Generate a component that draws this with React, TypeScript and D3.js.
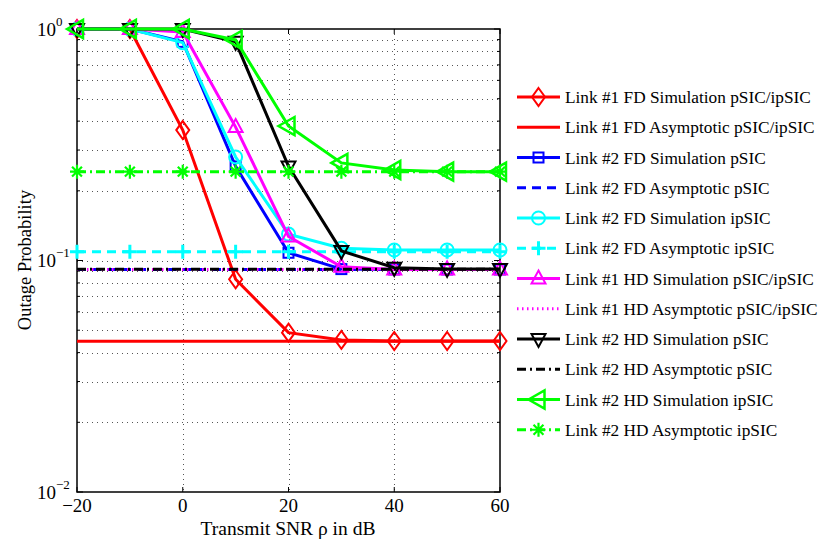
import React from "react";
import * as d3 from "d3";

const snr = [-20, -10, 0, 10, 20, 30, 40, 50, 60];

const link1FDSim = [1, 1, 0.366, 0.083, 0.0488, 0.0454, 0.0449, 0.0449, 0.0449];
const link1FDAsym = [0.0448, 0.0448, 0.0448, 0.0448, 0.0448, 0.0448, 0.0448, 0.0448, 0.0448];
const link2FDSimP = [1, 1, 0.88, 0.255, 0.108, 0.0918, 0.0915, 0.0915, 0.0915];
const link2FDAsymP = [0.0915, 0.0915, 0.0915, 0.0915, 0.0915, 0.0915, 0.0915, 0.0915, 0.0915];
const link2FDSimI = [1, 1, 0.873, 0.28, 0.13, 0.113, 0.111, 0.111, 0.111];
const link2FDAsymI = [0.109, 0.109, 0.109, 0.109, 0.109, 0.109, 0.109, 0.109, 0.109];
const link1HDSim = [1, 1, 0.97, 0.377, 0.127, 0.094, 0.0915, 0.0915, 0.0915];
const link1HDAsym = [0.0915, 0.0915, 0.0915, 0.0915, 0.0915, 0.0915, 0.0915, 0.0915, 0.0915];
const link2HDSimP = [1, 1, 1, 0.88, 0.255, 0.11, 0.093, 0.092, 0.092];
const link2HDAsymP = [0.0916, 0.0916, 0.0916, 0.0916, 0.0916, 0.0916, 0.0916, 0.0916, 0.0916];
const link2HDSimI = [1, 1, 1, 0.897, 0.381, 0.264, 0.246, 0.242, 0.242];
const link2HDAsymI = [0.242, 0.242, 0.242, 0.242, 0.242, 0.242, 0.242, 0.242, 0.242];

const xTicks = [-20, 0, 20, 40, 60];
const yMajor = [-2, -1, 0];

type Marker = "diamond" | "none" | "square" | "circle" | "plus" | "triUp" | "triDown" | "triLeft" | "star";

interface Series {
  label: string;
  values: number[];
  color: string;
  dash: string;
  marker: Marker;
}

const series: Series[] = [
  { label: "Link #1 FD Simulation pSIC/ipSIC", values: link1FDSim, color: "#ff0000", dash: "", marker: "diamond" },
  { label: "Link #1 FD Asymptotic pSIC/ipSIC", values: link1FDAsym, color: "#ff0000", dash: "", marker: "none" },
  { label: "Link #2 FD Simulation pSIC", values: link2FDSimP, color: "#0000ff", dash: "", marker: "square" },
  { label: "Link #2 FD Asymptotic pSIC", values: link2FDAsymP, color: "#0000ff", dash: "9,6", marker: "none" },
  { label: "Link #2 FD Simulation ipSIC", values: link2FDSimI, color: "#00ffff", dash: "", marker: "circle" },
  { label: "Link #2 FD Asymptotic ipSIC", values: link2FDAsymI, color: "#00ffff", dash: "9,6", marker: "plus" },
  { label: "Link #1 HD Simulation pSIC/ipSIC", values: link1HDSim, color: "#ff00ff", dash: "", marker: "triUp" },
  { label: "Link #1 HD Asymptotic pSIC/ipSIC", values: link1HDAsym, color: "#ff00ff", dash: "1.5,3.5", marker: "none" },
  { label: "Link #2 HD Simulation pSIC", values: link2HDSimP, color: "#000000", dash: "", marker: "triDown" },
  { label: "Link #2 HD Asymptotic pSIC", values: link2HDAsymP, color: "#000000", dash: "9,4,2,4", marker: "none" },
  { label: "Link #2 HD Simulation ipSIC", values: link2HDSimI, color: "#00ff00", dash: "", marker: "triLeft" },
  { label: "Link #2 HD Asymptotic ipSIC", values: link2HDAsymI, color: "#00ff00", dash: "9,4,2,4", marker: "star" },
];

const W = 819;
const H = 539;
const L = 77, R = 500, T = 29, B = 492;
const FONT = "'Liberation Serif', 'Times New Roman', serif";

function MarkerShape({ type, x, y, color }: { type: Marker; x: number; y: number; color: string }) {
  const sw = 2;
  const common = { fill: "none", stroke: color, strokeWidth: sw };
  switch (type) {
    case "diamond":
      return <path d={`M${x},${y - 9}L${x + 6.5},${y}L${x},${y + 9}L${x - 6.5},${y}Z`} {...common} />;
    case "square":
      return <rect x={x - 5} y={y - 5} width={10} height={10} {...common} />;
    case "circle":
      return <circle cx={x} cy={y} r={6.5} {...common} />;
    case "plus":
      return <path d={`M${x - 7},${y}H${x + 7}M${x},${y - 7}V${y + 7}`} {...common} strokeWidth={3} />;
    case "triUp":
      return <path d={`M${x},${y - 8}L${x + 7},${y + 5}L${x - 7},${y + 5}Z`} {...common} />;
    case "triDown":
      return <path d={`M${x},${y + 8}L${x + 7},${y - 5}L${x - 7},${y - 5}Z`} {...common} />;
    case "triLeft":
      return <path d={`M${x - 10},${y}L${x + 6},${y - 9}L${x + 6},${y + 9}Z`} {...common} strokeWidth={2.5} />;
    case "star": {
      const r = 7;
      const d = r * 0.707;
      return (
        <path
          d={`M${x - r},${y}H${x + r}M${x},${y - r}V${y + r}M${x - d},${y - d}L${x + d},${y + d}M${x - d},${y + d}L${x + d},${y - d}`}
          {...common}
          strokeWidth={2.2}
        />
      );
    }
    default:
      return null;
  }
}

export default function App() {
  const x = d3.scaleLinear().domain([-20, 60]).range([L, R]);
  const y = d3.scaleLog().domain([0.01, 1]).range([B, T]);

  const minorY: number[] = [];
  for (const e of [-2, -1]) {
    for (let m = 2; m <= 9; m++) minorY.push(m * Math.pow(10, e));
  }
  const gridY = [...minorY, 0.1];

  const line = d3
    .line<number>()
    .x((_, i) => x(snr[i]))
    .y((v) => y(v));

  const legendX0 = 517, legendX1 = 560, legendY0 = 97, legendStep = 30.25;

  return (
    <svg width={W} height={H} style={{ position: "absolute", left: 0, top: 0, background: "#fff" }} fontFamily={FONT}>
      <rect x={0} y={0} width={W} height={H} fill="#fff" />
      {/* grid */}
      <g stroke="#555" strokeWidth={1} strokeDasharray="1,4">
        {gridY.map((v, i) => (
          <line key={"gy" + i} x1={L} x2={R} y1={Math.round(y(v)) + 0.5} y2={Math.round(y(v)) + 0.5} />
        ))}
        {xTicks.slice(1, -1).map((t) => (
          <line key={"gx" + t} x1={Math.round(x(t)) + 0.5} x2={Math.round(x(t)) + 0.5} y1={T} y2={B} />
        ))}
      </g>
      {/* ticks */}
      <g stroke="#000" strokeWidth={1}>
        {xTicks.map((t) => (
          <g key={"xt" + t}>
            <line x1={x(t)} x2={x(t)} y1={B} y2={B - 5} />
            <line x1={x(t)} x2={x(t)} y1={T} y2={T + 5} />
          </g>
        ))}
        {yMajor.map((e) => (
          <g key={"ym" + e}>
            <line x1={L} x2={L + 6} y1={y(Math.pow(10, e))} y2={y(Math.pow(10, e))} />
            <line x1={R} x2={R - 6} y1={y(Math.pow(10, e))} y2={y(Math.pow(10, e))} />
          </g>
        ))}
        {minorY.map((v, i) => (
          <g key={"yn" + i}>
            <line x1={L} x2={L + 3} y1={y(v)} y2={y(v)} />
            <line x1={R} x2={R - 3} y1={y(v)} y2={y(v)} />
          </g>
        ))}
      </g>
      <rect x={L} y={T} width={R - L} height={B - T} fill="none" stroke="#000" strokeWidth={1.5} />
      {/* series */}
      <g>
        {series.map((s, si) => (
          <g key={"s" + si}>
            <path d={line(s.values) || ""} fill="none" stroke={s.color} strokeWidth={3} strokeDasharray={s.dash || undefined} />
            {s.marker !== "none" &&
              s.values.map((v, i) => <MarkerShape key={i} type={s.marker} x={x(snr[i])} y={y(v)} color={s.color} />)}
          </g>
        ))}
      </g>
      {/* tick labels */}
      <g fontSize={19} fill="#000">
        {xTicks.map((t) => (
          <text key={"xl" + t} x={x(t)} y={512} textAnchor="middle">
            {t < 0 ? "\u2212" + Math.abs(t) : t}
          </text>
        ))}
        {yMajor.map((e) => (
          <text key={"yl" + e} x={37} y={y(Math.pow(10, e)) + 6.5} textAnchor="start">
            <tspan>10</tspan>
            <tspan dy={-10} fontSize={13}>{e < 0 ? "\u2212" + Math.abs(e) : e}</tspan>
          </text>
        ))}
      </g>
      <text x={288} y={535} textAnchor="middle" fontSize={19.5}>
        Transmit SNR ρ in dB
      </text>
      <text transform={`translate(31,${260}) rotate(-90)`} textAnchor="middle" fontSize={18.5}>
        Outage Probability
      </text>
      {/* legend */}
      <g>
        {series.map((s, i) => {
          const ly = legendY0 + i * legendStep;
          return (
            <g key={"lg" + i}>
              <line x1={legendX0} x2={legendX1} y1={ly} y2={ly} stroke={s.color} strokeWidth={3} strokeDasharray={s.dash || undefined} />
              {s.marker !== "none" && <MarkerShape type={s.marker} x={(legendX0 + legendX1) / 2} y={ly} color={s.color} />}
              <text x={565} y={ly + 6} fontSize={17.3}>
                {s.label}
              </text>
            </g>
          );
        })}
      </g>
    </svg>
  );
}
